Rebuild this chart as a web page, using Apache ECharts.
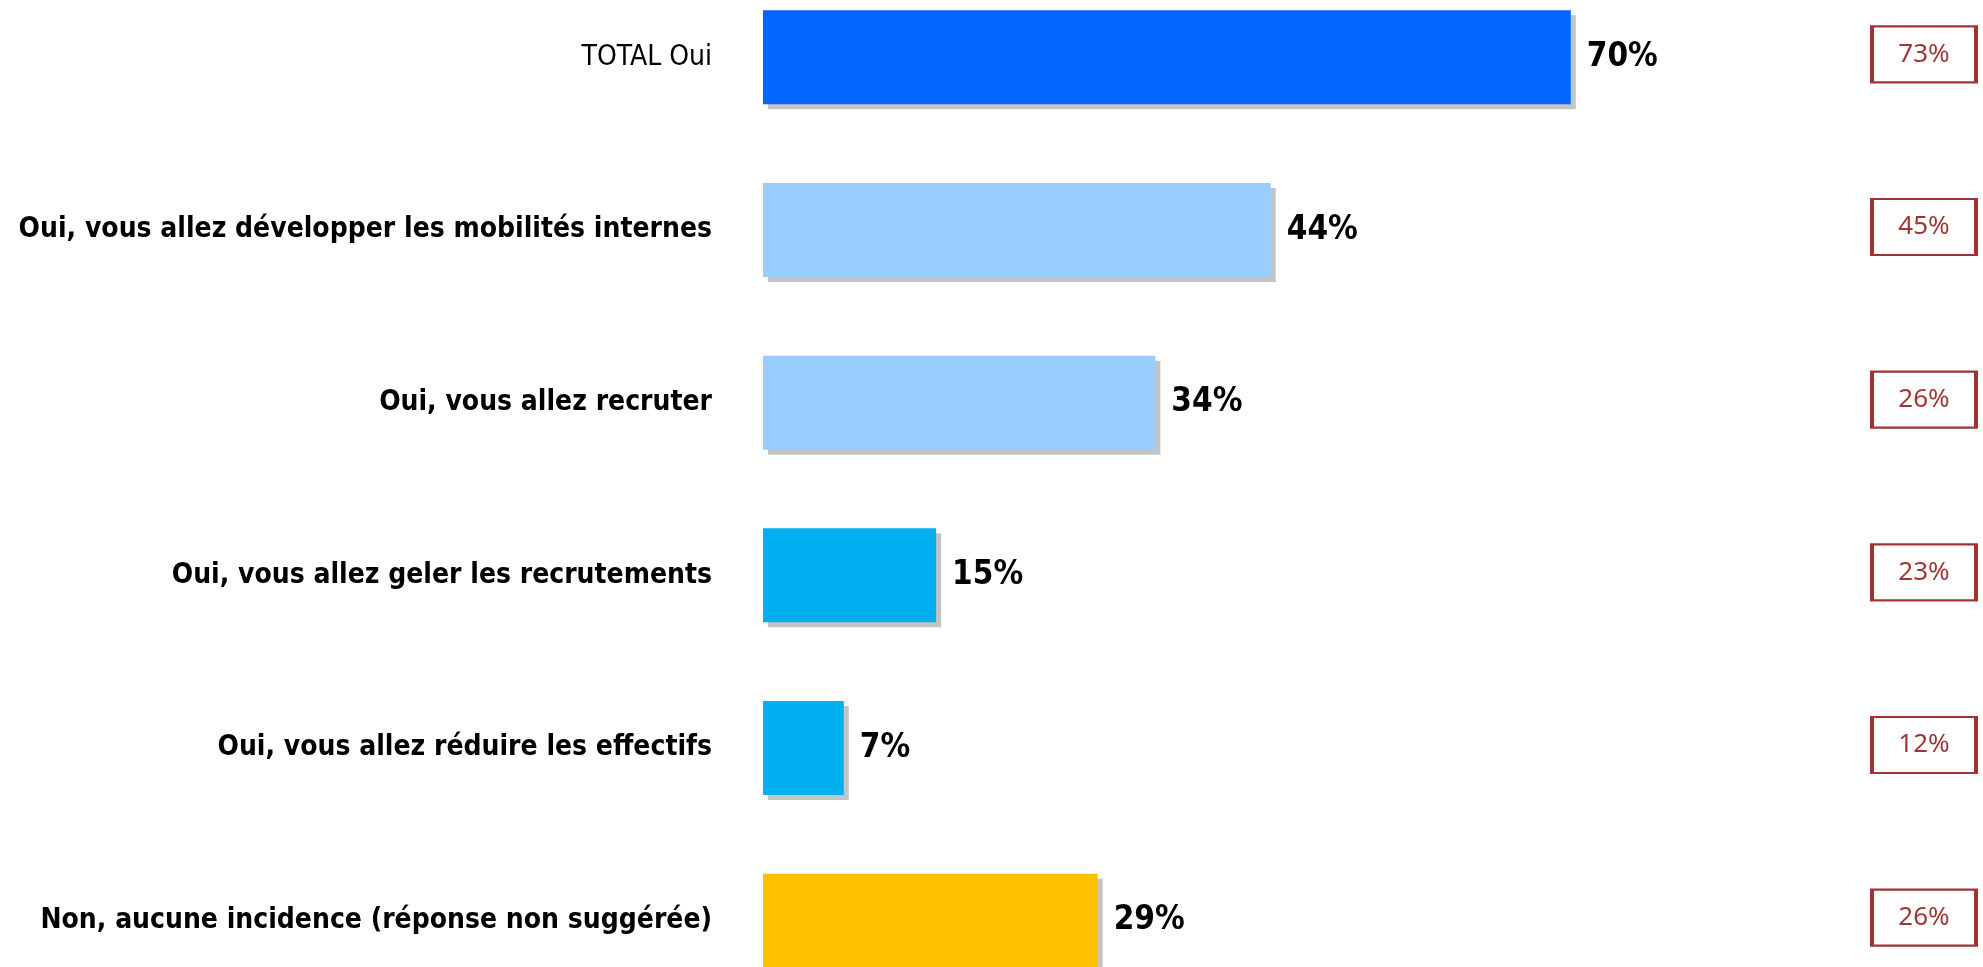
<!DOCTYPE html>
<html>
<head>
<meta charset="utf-8">
<script src="https://cdn.jsdelivr.net/npm/echarts@6/dist/echarts.min.js"></script>
<style>
html, body { margin: 0; padding: 0; background: #fff; }
#main { width: 1983px; height: 967px; }
</style>
</head>
<body>
<div id="main"></div>
<script>
// données
var categories = [
	'TOTAL Oui',
	'Oui, vous allez développer les mobilités internes',
	'Oui, vous allez recruter',
	'Oui, vous allez geler les recrutements',
	'Oui, vous allez réduire les effectifs',
	'Non, aucune incidence (réponse non suggérée)'
];
var values = [70, 44, 34, 15, 7, 29];      // vague actuelle
var previous = [73, 45, 26, 23, 12, 26];   // rappel (encadrés)
var barColors = ['#0066FF', '#99CCFF', '#99CCFF', '#00B0F0', '#00B0F0', '#FFC000'];

var fontLabel = '"DejaVu Sans Condensed", "DejaVu Sans", sans-serif';

// libellés de l'axe : TOTAL en normal, les autres en gras
function GetCategoryData(){
	var res = [];
	for (var i = 0; i < categories.length; i++) {
		res.push({
			value: categories[i],
			textStyle: { fontWeight: i === 0 ? 'normal' : 'bold' }
		});
	}
	return res;
}
// barres
function GetBarData(){
	var res = [];
	for (var i = 0; i < values.length; i++) {
		res.push({ value: values[i], itemStyle: { color: barColors[i] } });
	}
	return res;
}
// encadrés de droite
function GetBoxData(){
	var res = [];
	for (var i = 0; i < previous.length; i++) res.push([100, i, previous[i]]);
	return res;
}

var chart = echarts.init(document.getElementById('main'));
chart.setOption({
	animation: false,
	backgroundColor: '#fff',
	grid: { left: 763, right: 66, top: -29, bottom: -40, outerBoundsMode: 'none', containLabel: false },
	xAxis: {
		type: 'value',
		min: 0, max: 100,
		show: false
	},
	yAxis: {
		type: 'category',
		inverse: true,
		data: GetCategoryData(),
		axisLine: { show: false },
		axisTick: { show: false },
		splitLine: { show: false },
		axisLabel: {
			margin: 51,
			color: '#000',
			fontSize: 28,
			fontFamily: fontLabel
		}
	},
	series: [
		{
			type: 'bar',
			barWidth: 94,
			itemStyle: {
				shadowColor: '#c4c4c4',
				shadowBlur: 0,
				shadowOffsetX: 5,
				shadowOffsetY: 5
			},
			label: {
				show: true,
				position: 'right',
				distance: 16,
				formatter: '{c}%',
				color: '#000',
				fontSize: 33,
				fontWeight: 'bold',
				fontFamily: fontLabel
			},
			data: GetBarData()
		},
		{
			type: 'scatter',
			symbol: 'rect',
			symbolSize: [104, 56],
			symbolOffset: [7, -3],
			itemStyle: {
				color: '#fff',
				borderColor: '#880000',
				borderWidth: 3
			},
			label: {
				show: true,
				position: 'inside',
				formatter: function (p) { return p.value[2] + '%'; },
				color: '#880000',
				fontSize: 26,
				fontFamily: '"Noto Sans", Roboto, sans-serif'
			},
			data: GetBoxData()
		}
	]
});
</script>
</body>
</html>
